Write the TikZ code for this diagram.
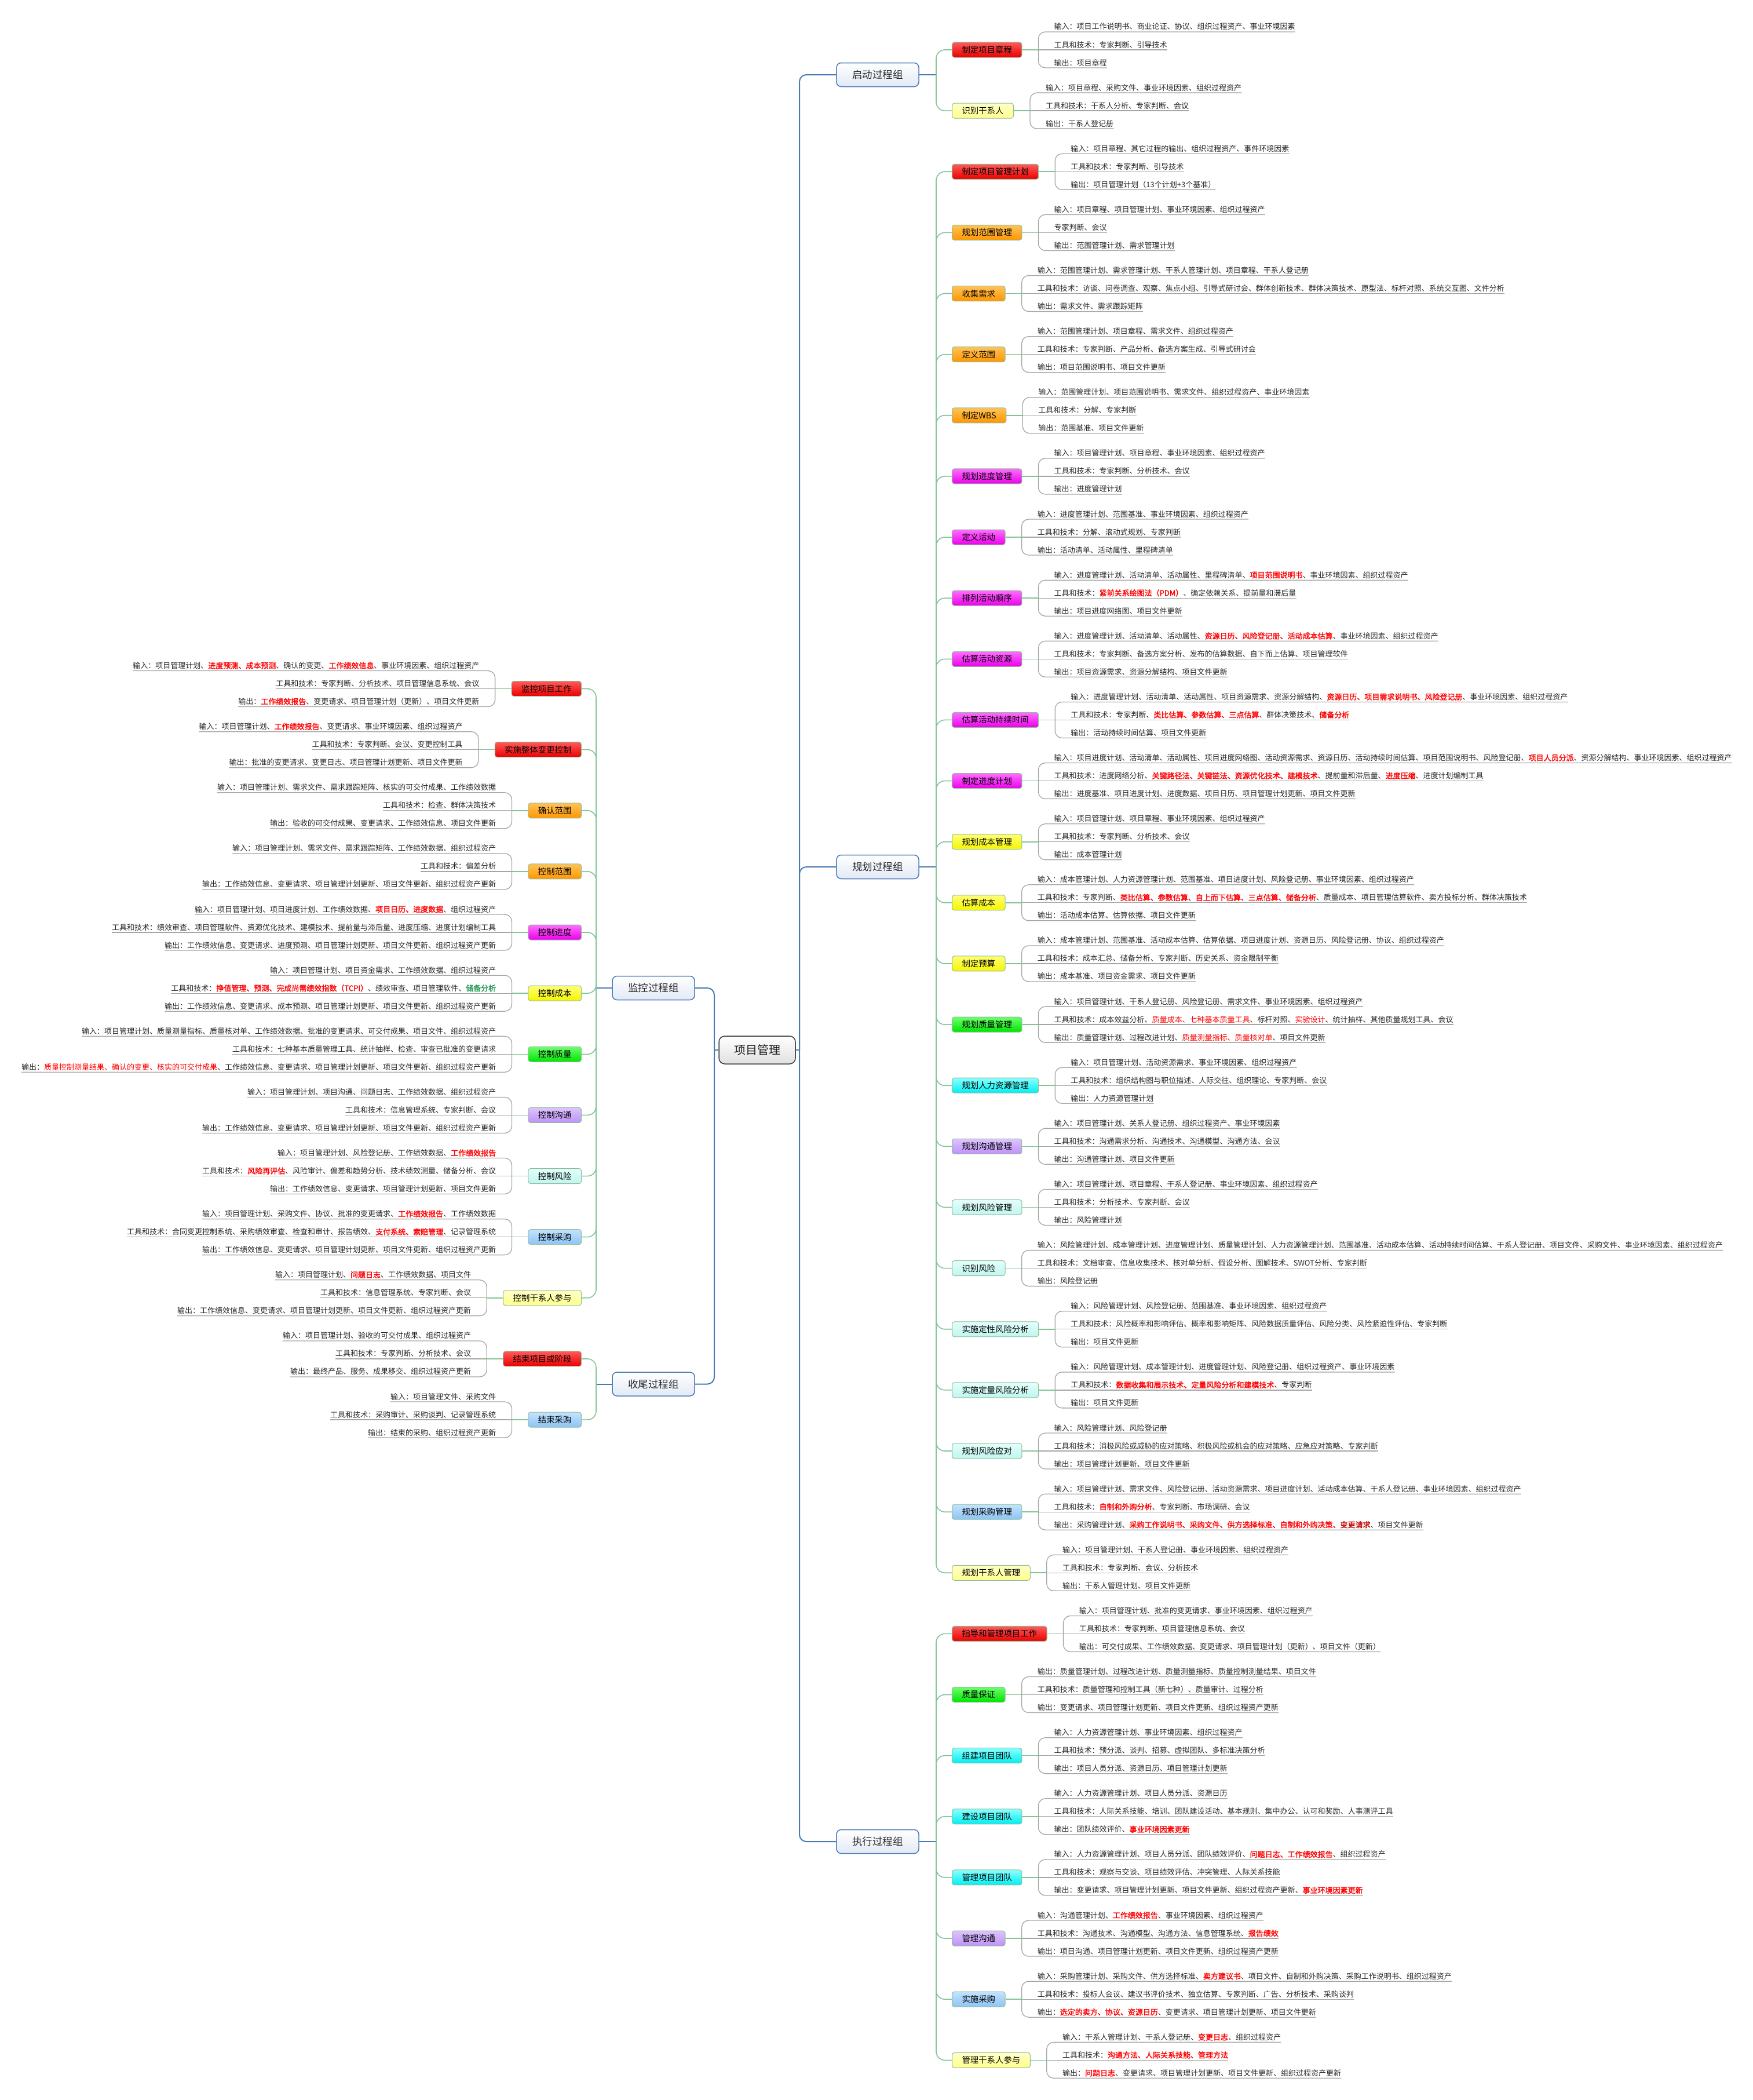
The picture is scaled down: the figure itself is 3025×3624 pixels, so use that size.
\documentclass[tikz,border=0pt]{standalone}
\usepackage{fontspec}
\setmainfont{Noto Sans CJK SC}
\newfontfamily\cjkfb{Noto Sans CJK SC}[FakeBold=2]
\usetikzlibrary{calc}
\newcommand\redt[1]{{\cjkfb\color[HTML]{FF0000}#1}}
\newcommand\redn[1]{{\color[HTML]{FF0000}#1}}
\newcommand\grnt[1]{{\cjkfb\color[HTML]{229955}#1}}
\newcommand\drdt[1]{{\cjkfb\color[HTML]{C00000}#1}}
\tikzset{
  pnode/.style={draw={rgb,255:red,143;green,191;blue,154}, line width=1pt, rounded corners=4pt, minimum height=26pt, inner xsep=17pt, inner ysep=0pt, font=\fontsize{14.4}{16}\selectfont, text=black},
  txt/.style={inner sep=0pt, font=\fontsize{13}{15}\selectfont, text={rgb,255:red,38;green,38;blue,38}},
  ulin/.style={draw={rgb,255:red,166;green,166;blue,166}, line width=1.3pt},
  gline/.style={draw={rgb,255:red,130;green,196;blue,149}, line width=1.6pt},
  bline/.style={draw={rgb,255:red,74;green,122;blue,181}, line width=2pt},
  gnode/.style={draw={rgb,255:red,74;green,122;blue,181}, line width=1.5pt, rounded corners=8pt, top color=white, bottom color={rgb,255:red,226;green,234;blue,246}, minimum width=142pt, minimum height=41pt, inner sep=0pt, font=\fontsize{17.5}{20}\selectfont, text={rgb,255:red,40;green,40;blue,40}},
  cnode/.style={draw={rgb,255:red,60;green,60;blue,60}, line width=1.5pt, rounded corners=10pt, top color=white, bottom color={rgb,255:red,224;green,224;blue,224}, minimum width=132pt, minimum height=48pt, inner sep=0pt, font=\fontsize{20}{24}\selectfont, text={rgb,255:red,30;green,30;blue,30}},
  cR/.style={top color={rgb,255:red,255;green,90;blue,90}, bottom color={rgb,255:red,235;green,0;blue,0}},
  cO/.style={top color={rgb,255:red,255;green,196;blue,90}, bottom color={rgb,255:red,255;green,150;blue,0}},
  cM/.style={top color={rgb,255:red,255;green,110;blue,255}, bottom color={rgb,255:red,235;green,0;blue,235}},
  cY/.style={top color={rgb,255:red,255;green,255;blue,120}, bottom color={rgb,255:red,245;green,245;blue,0}},
  cLY/.style={top color={rgb,255:red,255;green,255;blue,200}, bottom color={rgb,255:red,255;green,255;blue,140}},
  cG/.style={top color={rgb,255:red,110;green,255;blue,110}, bottom color={rgb,255:red,0;green,228;blue,0}},
  cC/.style={top color={rgb,255:red,140;green,255;blue,255}, bottom color={rgb,255:red,0;green,238;blue,240}},
  cL/.style={top color={rgb,255:red,222;green,196;blue,255}, bottom color={rgb,255:red,190;green,145;blue,245}},
  cK/.style={top color={rgb,255:red,228;green,255;blue,252}, bottom color={rgb,255:red,192;green,245;blue,238}},
  cP/.style={top color={rgb,255:red,196;green,226;blue,255}, bottom color={rgb,255:red,140;green,196;blue,245}},
}
% right-hand process: id, index, colour, label, input, tools, output
\newcommand\RP[7]{%
  \pgfmathsetmacro\yy{86+#2*105.13}%
  \draw[gline,rounded corners=15pt] (1616,\gy) |- (1643,\yy);
  \node[pnode,#3,anchor=west] (#1) at (1643,\yy) {#4};
  \coordinate (#1b) at ($(#1.east)+(28,0)$);
  \node[txt,anchor=base west] (#1i) at ($(#1b)+(27,-35)$) {#5};
  \node[txt,anchor=base west] (#1t) at ($(#1b)+(27,-4)$) {#6};
  \node[txt,anchor=base west] (#1o) at ($(#1b)+(27,27)$) {#7};
  \draw[ulin,rounded corners=12pt] ($(#1i.base east)+(0,4)$) -- ($(#1b)+(0,-31)$) -- ($(#1b)+(0,31)$) -- ($(#1o.base east)+(0,4)$);
  \draw[ulin] (#1b) -- ($(#1t.base east)+(0,4)$);
  \draw[gline] (#1.east) -- (#1b);
}
% left-hand process
\newcommand\LP[7]{%
  \pgfmathsetmacro\yy{1188.5+#2*105.13}%
  \draw[gline,rounded corners=15pt] (1029,\gy) |- (1004,\yy);
  \node[pnode,#3,anchor=east] (#1) at (1004,\yy) {#4};
  \coordinate (#1b) at ($(#1.west)+(-28,0)$);
  \node[txt,anchor=base east] (#1i) at ($(#1b)+(-27,-35)$) {#5};
  \node[txt,anchor=base east] (#1t) at ($(#1b)+(-27,-4)$) {#6};
  \node[txt,anchor=base east] (#1o) at ($(#1b)+(-27,27)$) {#7};
  \draw[ulin,rounded corners=12pt] ($(#1i.base west)+(0,4)$) -- ($(#1b)+(0,-31)$) -- ($(#1b)+(0,31)$) -- ($(#1o.base west)+(0,4)$);
  \draw[ulin] (#1b) -- ($(#1t.base west)+(0,4)$);
  \draw[gline] (#1.west) -- (#1b);
}
\begin{document}
\begin{tikzpicture}[x=1pt,y=-1pt]
\fill[white] (0,0) rectangle (3025,3624);
\useasboundingbox (0,0) rectangle (3025,3624);

% centre and groups
\node[cnode] (c) at (1307,1812) {项目管理};
\node[gnode] (g1) at (1515,129) {启动过程组};
\node[gnode] (g2) at (1515,1496) {规划过程组};
\node[gnode] (g3) at (1515,3178) {执行过程组};
\node[gnode] (g4) at (1128,1705) {监控过程组};
\node[gnode] (g5) at (1128,2388.5) {收尾过程组};
\coordinate (rt) at (1380,1812);
\coordinate (lt) at (1233,1812);
\draw[bline] (c.east) -- (rt);
\draw[bline] (c.west) -- (lt);
\foreach \g in {g1,g2,g3} \draw[bline,rounded corners=12pt] (rt) |- (\g.west);
\foreach \g in {g4,g5} \draw[bline,rounded corners=12pt] (lt) |- (\g.east);
\coordinate (t1) at (1616,129);
\coordinate (t2) at (1616,1496);
\coordinate (t3) at (1616,3178);
\coordinate (t4) at (1029,1705);
\coordinate (t5) at (1029,2388.5);
\draw[bline] (g1.east) -- (t1);
\draw[bline] (g2.east) -- (t2);
\draw[bline] (g3.east) -- (t3);
\draw[bline] (g4.west) -- (t4);
\draw[bline] (g5.west) -- (t5);

% ---------- 启动过程组
\def\gy{129}
\RP{a0}{0}{cR}{制定项目章程}{输入：项目工作说明书、商业论证、协议、组织过程资产、事业环境因素}{工具和技术：专家判断、引导技术}{输出：项目章程}
\RP{a1}{1}{cLY}{识别干系人}{输入：项目章程、采购文件、事业环境因素、组织过程资产}{工具和技术：干系人分析、专家判断、会议}{输出：干系人登记册}

% ---------- 规划过程组
\def\gy{1496}
\RP{p2}{2}{cR}{制定项目管理计划}{输入：项目章程、其它过程的输出、组织过程资产、事件环境因素}{工具和技术：专家判断、引导技术}{输出：项目管理计划（13个计划+3个基准）}
\RP{p3}{3}{cO}{规划范围管理}{输入：项目章程、项目管理计划、事业环境因素、组织过程资产}{专家判断、会议}{输出：范围管理计划、需求管理计划}
\RP{p4}{4}{cO}{收集需求}{输入：范围管理计划、需求管理计划、干系人管理计划、项目章程、干系人登记册}{工具和技术：访谈、问卷调查、观察、焦点小组、引导式研讨会、群体创新技术、群体决策技术、原型法、标杆对照、系统交互图、文件分析}{输出：需求文件、需求跟踪矩阵}
\RP{p5}{5}{cO}{定义范围}{输入：范围管理计划、项目章程、需求文件、组织过程资产}{工具和技术：专家判断、产品分析、备选方案生成、引导式研讨会}{输出：项目范围说明书、项目文件更新}
\RP{p6}{6}{cO}{制定WBS}{输入：范围管理计划、项目范围说明书、需求文件、组织过程资产、事业环境因素}{工具和技术：分解、专家判断}{输出：范围基准、项目文件更新}
\RP{p7}{7}{cM}{规划进度管理}{输入：项目管理计划、项目章程、事业环境因素、组织过程资产}{工具和技术：专家判断、分析技术、会议}{输出：进度管理计划}
\RP{p8}{8}{cM}{定义活动}{输入：进度管理计划、范围基准、事业环境因素、组织过程资产}{工具和技术：分解、滚动式规划、专家判断}{输出：活动清单、活动属性、里程碑清单}
\RP{p9}{9}{cM}{排列活动顺序}{输入：进度管理计划、活动清单、活动属性、里程碑清单、\redt{项目范围说明书}、事业环境因素、组织过程资产}{工具和技术：\redt{紧前关系绘图法（PDM）}、确定依赖关系、提前量和滞后量}{输出：项目进度网络图、项目文件更新}
\RP{p10}{10}{cM}{估算活动资源}{输入：进度管理计划、活动清单、活动属性、\redt{资源日历、风险登记册、活动成本估算}、事业环境因素、组织过程资产}{工具和技术：专家判断、备选方案分析、发布的估算数据、自下而上估算、项目管理软件}{输出：项目资源需求、资源分解结构、项目文件更新}
\RP{p11}{11}{cM}{估算活动持续时间}{输入：进度管理计划、活动清单、活动属性、项目资源需求、资源分解结构、\redt{资源日历、项目需求说明书、风险登记册}、事业环境因素、组织过程资产}{工具和技术：专家判断、\redt{类比估算、参数估算、三点估算}、群体决策技术、\redt{储备分析}}{输出：活动持续时间估算、项目文件更新}
\RP{p12}{12}{cM}{制定进度计划}{输入：项目进度计划、活动清单、活动属性、项目进度网络图、活动资源需求、资源日历、活动持续时间估算、项目范围说明书、风险登记册、\redt{项目人员分派}、资源分解结构、事业环境因素、组织过程资产}{工具和技术：进度网络分析、\redt{关键路径法、关键链法、资源优化技术、建模技术}、提前量和滞后量、\redt{进度压缩}、进度计划编制工具}{输出：进度基准、项目进度计划、进度数据、项目日历、项目管理计划更新、项目文件更新}
\RP{p13}{13}{cY}{规划成本管理}{输入：项目管理计划、项目章程、事业环境因素、组织过程资产}{工具和技术：专家判断、分析技术、会议}{输出：成本管理计划}
\RP{p14}{14}{cY}{估算成本}{输入：成本管理计划、人力资源管理计划、范围基准、项目进度计划、风险登记册、事业环境因素、组织过程资产}{工具和技术：专家判断、\redt{类比估算、参数估算、自上而下估算、三点估算、储备分析}、质量成本、项目管理估算软件、卖方投标分析、群体决策技术}{输出：活动成本估算、估算依据、项目文件更新}
\RP{p15}{15}{cY}{制定预算}{输入：成本管理计划、范围基准、活动成本估算、估算依据、项目进度计划、资源日历、风险登记册、协议、组织过程资产}{工具和技术：成本汇总、储备分析、专家判断、历史关系、资金限制平衡}{输出：成本基准、项目资金需求、项目文件更新}
\RP{p16}{16}{cG}{规划质量管理}{输入：项目管理计划、干系人登记册、风险登记册、需求文件、事业环境因素、组织过程资产}{工具和技术：成本效益分析、\redn{质量成本、七种基本质量工具}、标杆对照、\redn{实验设计}、统计抽样、其他质量规划工具、会议}{输出：质量管理计划、过程改进计划、\redn{质量测量指标、质量核对单}、项目文件更新}
\RP{p17}{17}{cC}{规划人力资源管理}{输入：项目管理计划、活动资源需求、事业环境因素、组织过程资产}{工具和技术：组织结构图与职位描述、人际交往、组织理论、专家判断、会议}{输出：人力资源管理计划}
\RP{p18}{18}{cL}{规划沟通管理}{输入：项目管理计划、关系人登记册、组织过程资产、事业环境因素}{工具和技术：沟通需求分析、沟通技术、沟通模型、沟通方法、会议}{输出：沟通管理计划、项目文件更新}
\RP{p19}{19}{cK}{规划风险管理}{输入：项目管理计划、项目章程、干系人登记册、事业环境因素、组织过程资产}{工具和技术：分析技术、专家判断、会议}{输出：风险管理计划}
\RP{p20}{20}{cK}{识别风险}{输入：风险管理计划、成本管理计划、进度管理计划、质量管理计划、人力资源管理计划、范围基准、活动成本估算、活动持续时间估算、干系人登记册、项目文件、采购文件、事业环境因素、组织过程资产}{工具和技术：文档审查、信息收集技术、核对单分析、假设分析、图解技术、SWOT分析、专家判断}{输出：风险登记册}
\RP{p21}{21}{cK}{实施定性风险分析}{输入：风险管理计划、风险登记册、范围基准、事业环境因素、组织过程资产}{工具和技术：风险概率和影响评估、概率和影响矩阵、风险数据质量评估、风险分类、风险紧迫性评估、专家判断}{输出：项目文件更新}
\RP{p22}{22}{cK}{实施定量风险分析}{输入：风险管理计划、成本管理计划、进度管理计划、风险登记册、组织过程资产、事业环境因素}{工具和技术：\redt{数据收集和展示技术、定量风险分析和建模技术}、专家判断}{输出：项目文件更新}
\RP{p23}{23}{cK}{规划风险应对}{输入：风险管理计划、风险登记册}{工具和技术：消极风险或威胁的应对策略、积极风险或机会的应对策略、应急应对策略、专家判断}{输出：项目管理计划更新、项目文件更新}
\RP{p24}{24}{cP}{规划采购管理}{输入：项目管理计划、需求文件、风险登记册、活动资源需求、项目进度计划、活动成本估算、干系人登记册、事业环境因素、组织过程资产}{工具和技术：\redt{自制和外购分析}、专家判断、市场调研、会议}{输出：采购管理计划、\redt{采购工作说明书、采购文件、供方选择标准、自制和外购决策、}\drdt{变更请求}、项目文件更新}
\RP{p25}{25}{cLY}{规划干系人管理}{输入：项目管理计划、干系人登记册、事业环境因素、组织过程资产}{工具和技术：专家判断、会议、分析技术}{输出：干系人管理计划、项目文件更新}

% ---------- 执行过程组
\def\gy{3178}
\RP{e26}{26}{cR}{指导和管理项目工作}{输入：项目管理计划、批准的变更请求、事业环境因素、组织过程资产}{工具和技术：专家判断、项目管理信息系统、会议}{输出：可交付成果、工作绩效数据、变更请求、项目管理计划（更新）、项目文件（更新）}
\RP{e27}{27}{cG}{质量保证}{输出：质量管理计划、过程改进计划、质量测量指标、质量控制测量结果、项目文件}{工具和技术：质量管理和控制工具（新七种）、质量审计、过程分析}{输出：变更请求、项目管理计划更新、项目文件更新、组织过程资产更新}
\RP{e28}{28}{cC}{组建项目团队}{输入：人力资源管理计划、事业环境因素、组织过程资产}{工具和技术：预分派、谈判、招募、虚拟团队、多标准决策分析}{输出：项目人员分派、资源日历、项目管理计划更新}
\RP{e29}{29}{cC}{建设项目团队}{输入：人力资源管理计划、项目人员分派、资源日历}{工具和技术：人际关系技能、培训、团队建设活动、基本规则、集中办公、认可和奖励、人事测评工具}{输出：团队绩效评价、\redt{事业环境因素更新}}
\RP{e30}{30}{cC}{管理项目团队}{输入：人力资源管理计划、项目人员分派、团队绩效评价、\redt{问题日志、工作绩效报告}、组织过程资产}{工具和技术：观察与交谈、项目绩效评估、冲突管理、人际关系技能}{输出：变更请求、项目管理计划更新、项目文件更新、组织过程资产更新、\redt{事业环境因素更新}}
\RP{e31}{31}{cL}{管理沟通}{输入：沟通管理计划、\redt{工作绩效报告}、事业环境因素、组织过程资产}{工具和技术：沟通技术、沟通模型、沟通方法、信息管理系统、\redt{报告绩效}}{输出：项目沟通、项目管理计划更新、项目文件更新、组织过程资产更新}
\RP{e32}{32}{cP}{实施采购}{输入：采购管理计划、采购文件、供方选择标准、\redt{卖方建议书}、项目文件、自制和外购决策、采购工作说明书、组织过程资产}{工具和技术：投标人会议、建议书评价技术、独立估算、专家判断、广告、分析技术、采购谈判}{输出：\redt{选定的卖方、协议、资源日历}、变更请求、项目管理计划更新、项目文件更新}
\RP{e33}{33}{cLY}{管理干系人参与}{输入：干系人管理计划、干系人登记册、\redt{变更日志}、组织过程资产}{工具和技术：\redt{沟通方法、人际关系技能、管理方法}}{输出：\redt{问题日志}、变更请求、项目管理计划更新、项目文件更新、组织过程资产更新}

% ---------- 监控过程组
\def\gy{1705}
\LP{m0}{0}{cR}{监控项目工作}{输入：项目管理计划、\redt{进度预测、成本预测}、确认的变更、\redt{工作绩效信息}、事业环境因素、组织过程资产}{工具和技术：专家判断、分析技术、项目管理信息系统、会议}{输出：\redt{工作绩效报告}、变更请求、项目管理计划（更新）、项目文件更新}
\LP{m1}{1}{cR}{实施整体变更控制}{输入：项目管理计划、\redt{工作绩效报告}、变更请求、事业环境因素、组织过程资产}{工具和技术：专家判断、会议、变更控制工具}{输出：批准的变更请求、变更日志、项目管理计划更新、项目文件更新}
\LP{m2}{2}{cO}{确认范围}{输入：项目管理计划、需求文件、需求跟踪矩阵、核实的可交付成果、工作绩效数据}{工具和技术：检查、群体决策技术}{输出：验收的可交付成果、变更请求、工作绩效信息、项目文件更新}
\LP{m3}{3}{cO}{控制范围}{输入：项目管理计划、需求文件、需求跟踪矩阵、工作绩效数据、组织过程资产}{工具和技术：偏差分析}{输出：工作绩效信息、变更请求、项目管理计划更新、项目文件更新、组织过程资产更新}
\LP{m4}{4}{cM}{控制进度}{输入：项目管理计划、项目进度计划、工作绩效数据、\redt{项目日历、进度数据}、组织过程资产}{工具和技术：绩效审查、项目管理软件、资源优化技术、建模技术、提前量与滞后量、进度压缩、进度计划编制工具}{输出：工作绩效信息、变更请求、进度预测、项目管理计划更新、项目文件更新、组织过程资产更新}
\LP{m5}{5}{cY}{控制成本}{输入：项目管理计划、项目资金需求、工作绩效数据、组织过程资产}{工具和技术：\redt{挣值管理、预测、完成尚需绩效指数（TCPI）}、绩效审查、项目管理软件、\grnt{储备分析}}{输出：工作绩效信息、变更请求、成本预测、项目管理计划更新、项目文件更新、组织过程资产更新}
\LP{m6}{6}{cG}{控制质量}{输入：项目管理计划、质量测量指标、质量核对单、工作绩效数据、批准的变更请求、可交付成果、项目文件、组织过程资产}{工具和技术：七种基本质量管理工具、统计抽样、检查、审查已批准的变更请求}{输出：\redn{质量控制测量结果、确认的变更、核实的可交付成果}、工作绩效信息、变更请求、项目管理计划更新、项目文件更新、组织过程资产更新}
\LP{m7}{7}{cL}{控制沟通}{输入：项目管理计划、项目沟通、问题日志、工作绩效数据、组织过程资产}{工具和技术：信息管理系统、专家判断、会议}{输出：工作绩效信息、变更请求、项目管理计划更新、项目文件更新、组织过程资产更新}
\LP{m8}{8}{cK}{控制风险}{输入：项目管理计划、风险登记册、工作绩效数据、\redt{工作绩效报告}}{工具和技术：\redt{风险再评估}、风险审计、偏差和趋势分析、技术绩效测量、储备分析、会议}{输出：工作绩效信息、变更请求、项目管理计划更新、项目文件更新}
\LP{m9}{9}{cP}{控制采购}{输入：项目管理计划、采购文件、协议、批准的变更请求、\redt{工作绩效报告}、工作绩效数据}{工具和技术：合同变更控制系统、采购绩效审查、检查和审计、报告绩效、\redt{支付系统、索赔管理}、记录管理系统}{输出：工作绩效信息、变更请求、项目管理计划更新、项目文件更新、组织过程资产更新}
\LP{m10}{10}{cLY}{控制干系人参与}{输入：项目管理计划、\redt{问题日志}、工作绩效数据、项目文件}{工具和技术：信息管理系统、专家判断、会议}{输出：工作绩效信息、变更请求、项目管理计划更新、项目文件更新、组织过程资产更新}

% ---------- 收尾过程组
\def\gy{2388.5}
\LP{s11}{11}{cR}{结束项目或阶段}{输入：项目管理计划、验收的可交付成果、组织过程资产}{工具和技术：专家判断、分析技术、会议}{输出：最终产品、服务、成果移交、组织过程资产更新}
\LP{s12}{12}{cP}{结束采购}{输入：项目管理文件、采购文件}{工具和技术：采购审计、采购谈判、记录管理系统}{输出：结束的采购、组织过程资产更新}
\end{tikzpicture}
\end{document}
